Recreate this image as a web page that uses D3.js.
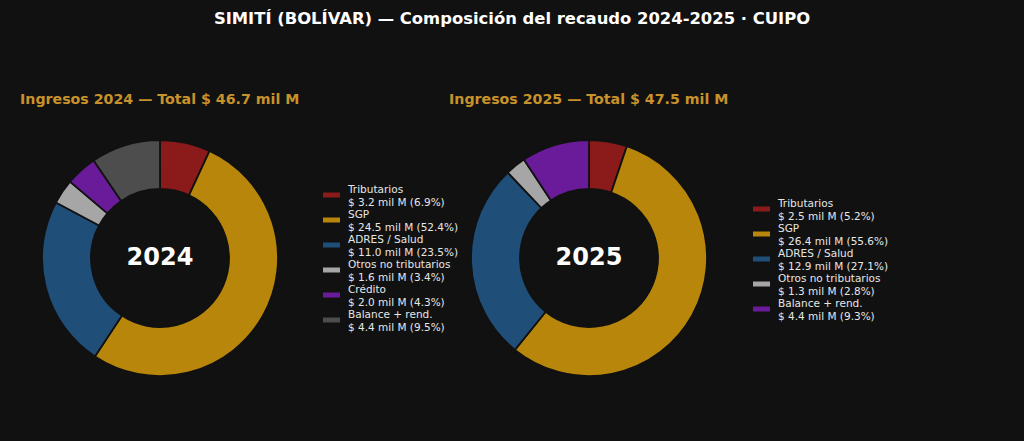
<!DOCTYPE html>
<html>
<head>
<meta charset="utf-8">
<script src="https://cdn.jsdelivr.net/npm/d3@7"></script>
<style>
  html, body { margin: 0; padding: 0; background: #111111; }
  svg { display: block; font-family: "DejaVu Sans", sans-serif; }
</style>
</head>
<body>
<svg id="chart"></svg>
<script>
const SIZE = { width: 1024, height: 441 }

const TITLE = "SIMITÍ (BOLÍVAR) — Composición del recaudo 2024-2025 · CUIPO"

const categories2024 = ["Tributarios", "SGP", "ADRES / Salud", "Otros no tributarios", "Crédito", "Balance + rend."]
const values2024 = [3.2, 24.5, 11.0, 1.6, 2.0, 4.4]
const pct2024 = [6.9, 52.4, 23.5, 3.4, 4.3, 9.5]
const total2024 = 46.7

const categories2025 = ["Tributarios", "SGP", "ADRES / Salud", "Otros no tributarios", "Balance + rend."]
const values2025 = [2.5, 26.4, 12.9, 1.3, 4.4]
const pct2025 = [5.2, 55.6, 27.1, 2.8, 9.3]
const total2025 = 47.5

const COLORS = {
  "Tributarios": "#8b1a1a",
  "SGP": "#b8860b",
  "ADRES / Salud": "#1f4e79",
  "Otros no tributarios": "#a6a6a6",
  "Crédito": "#6a1b9a",
  "Balance + rend.": "#4d4d4d",
}
const COLORS_2025 = Object.assign({}, COLORS, { "Balance + rend.": "#6a1b9a" })

const svg = d3.select("svg#chart").attr("width", SIZE.width).attr("height", SIZE.height)
svg.append("rect").attr("width", SIZE.width).attr("height", SIZE.height).attr("fill", "#111111")

svg.append("text")
  .attr("x", 512).attr("y", 24)
  .attr("text-anchor", "middle")
  .attr("fill", "#ffffff")
  .attr("font-weight", "bold")
  .attr("font-size", 16.4)
  .text(TITLE)

const fmt = d3.format(".1f")

function drawDonut(opts){
  const g = svg.append("g")
  g.append("text")
    .attr("x", opts.titleX).attr("y", 104)
    .attr("fill", "#c8922a")
    .attr("font-weight", "bold")
    .attr("font-size", 14.2)
    .text(`Ingresos ${opts.year} — Total $ ${fmt(opts.total)} mil M`)

  const data = opts.categories.map((c, i) => ({ cat: c, value: opts.values[i], pct: opts.pct[i] }))
  const pie = d3.pie().value(d => d.pct).sort(null)
  const arc = d3.arc().innerRadius(69).outerRadius(118)
  const donut = g.append("g").attr("transform", `translate(${opts.cx}, 258)`)
  donut.selectAll("path").data(pie(data)).enter().append("path")
    .attr("d", arc)
    .attr("fill", d => opts.colors[d.data.cat])
    .attr("stroke", "#111111")
    .attr("stroke-width", 1.8)
  donut.append("text")
    .attr("text-anchor", "middle")
    .attr("y", -2)
    .attr("dy", "0.36em")
    .attr("fill", "#ffffff")
    .attr("font-weight", "bold")
    .attr("font-size", 24)
    .text(opts.year)

  // legend, two lines per entry
  const legend = g.append("g").attr("transform", `translate(${opts.legX}, ${opts.legY})`)
  const items = legend.selectAll("g").data(data).enter().append("g")
    .attr("transform", (_, i) => `translate(0, ${i * 25})`)
  items.append("rect")
    .attr("x", 0).attr("y", -2.5).attr("width", 17).attr("height", 5)
    .attr("fill", d => opts.colors[d.cat])
  const t = items.append("text")
    .attr("fill", "#e6e6e6")
    .attr("font-size", 10.5)
  t.append("tspan").attr("x", 25).attr("y", -2).text(d => d.cat)
  t.append("tspan").attr("x", 25).attr("y", 10.5).text(d => `$ ${fmt(d.value)} mil M (${fmt(d.pct)}%)`)
}

drawDonut({
  year: "2024", total: total2024, categories: categories2024, values: values2024, pct: pct2024,
  colors: COLORS, cx: 160, titleX: 20, legX: 323, legY: 195,
})
drawDonut({
  year: "2025", total: total2025, categories: categories2025, values: values2025, pct: pct2025,
  colors: COLORS_2025, cx: 589, titleX: 449, legX: 753, legY: 209,
})
</script>
</body>
</html>
